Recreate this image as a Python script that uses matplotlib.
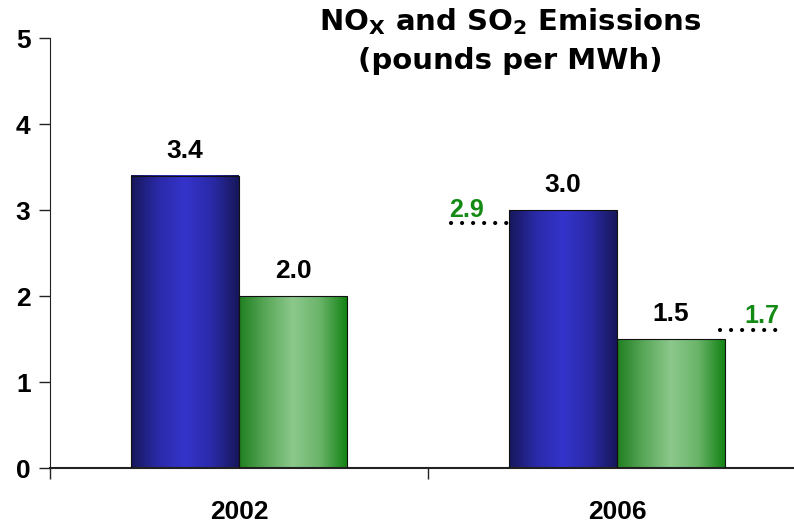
import numpy as np
import matplotlib.pyplot as plt
from matplotlib.colors import LinearSegmentedColormap

plt.rcParams['font.family'] = ['Liberation Sans', 'DejaVu Sans']
plt.rcParams['font.weight'] = 'bold'

years = ['2002', '2006']
nox = [3.4, 3.0]
so2 = [2.0, 1.5]
# reference levels shown with dotted lines for 2006
nox_ref = 2.9
so2_ref = 1.7

blue_cm = LinearSegmentedColormap.from_list(
    'b', ['#17175a', '#2a2aa8', '#3434cc', '#2a2aa8', '#17175a'])
green_cm = LinearSegmentedColormap.from_list(
    'g', ['#1f7f1f', '#5aa85a', '#8cc88c', '#6ab46a', '#138313'])

fig = plt.figure(figsize=(7.94, 5.26), dpi=100)
ax = fig.add_axes([50/794, 58/526, 744/794, 430/526])

w = 0.2857
grad = np.linspace(0, 1, 256).reshape(1, -1)


def gbar(x0, h, cmap):
    ax.imshow(grad, cmap=cmap, extent=(x0, x0 + w, 0, h), aspect='auto',
              interpolation='bilinear', zorder=2)
    ax.add_patch(plt.Rectangle((x0, 0), w, h, fill=False,
                               ec='#111111', lw=0.8, zorder=3))


x = np.arange(len(years))
for i in x:
    gbar(i - w, nox[i], blue_cm)
    gbar(i, so2[i], green_cm)
    ax.text(i - w/2, nox[i] + 0.15, f'{nox[i]:.1f}', ha='center', va='bottom',
            fontsize=19, fontweight='bold')
    ax.text(i + w/2, so2[i] + 0.15, f'{so2[i]:.1f}', ha='center', va='bottom',
            fontsize=19, fontweight='bold')

green = '#138a13'
ax.plot([0.56, 0.72], [nox_ref - 0.05, nox_ref - 0.05], color='black', lw=3,
        ls=(0, (0.01, 2.64)), dash_capstyle='round', zorder=4)
ax.text(0.555, nox_ref - 0.04, f'{nox_ref:.1f}', color=green, ha='left',
        va='bottom', fontsize=18, fontweight='bold')
ax.plot([1.272, 1.44], [so2_ref - 0.1, so2_ref - 0.1], color='black', lw=3,
        ls=(0, (0.01, 2.64)), dash_capstyle='round', zorder=4)
ax.text(1.43, so2_ref - 0.07, f'{so2_ref:.1f}', color=green, ha='right',
        va='bottom', fontsize=18, fontweight='bold')

ax.set_xlim(-0.5, -0.5 + 744/378)
ax.set_ylim(0, 5)
ax.set_yticks(range(6))
ax.set_yticklabels([str(v) for v in range(6)], fontsize=19, fontweight='bold')
ax.set_xticks([-0.5, 0.5])
ax.set_xticklabels([])
ax.tick_params(axis='both', direction='out', length=8, width=1, color='#222222')
ax.tick_params(axis='y', pad=6)
for i, yr in enumerate(years):
    ax.text(i, -0.37, yr, ha='center', va='top', fontsize=19,
            fontweight='bold')

for s in ['top', 'right']:
    ax.spines[s].set_visible(False)
ax.spines['left'].set_color('#222222')
ax.spines['bottom'].set_color('#222222')
ax.spines['bottom'].set_linewidth(1.5)

title_font = ['DejaVu Sans']
fig.text(510/794, 1 - 22/526, 'NO$_\\mathregular{X}$ and SO$_\\mathregular{2}$ Emissions',
         ha='center', va='center', fontsize=21, fontweight='bold',
         family=title_font)
fig.text(510/794, 1 - 61/526, '(pounds per MWh)', ha='center', va='center',
         fontsize=21, fontweight='bold', family=title_font)

fig.savefig('out.png', dpi=100)
